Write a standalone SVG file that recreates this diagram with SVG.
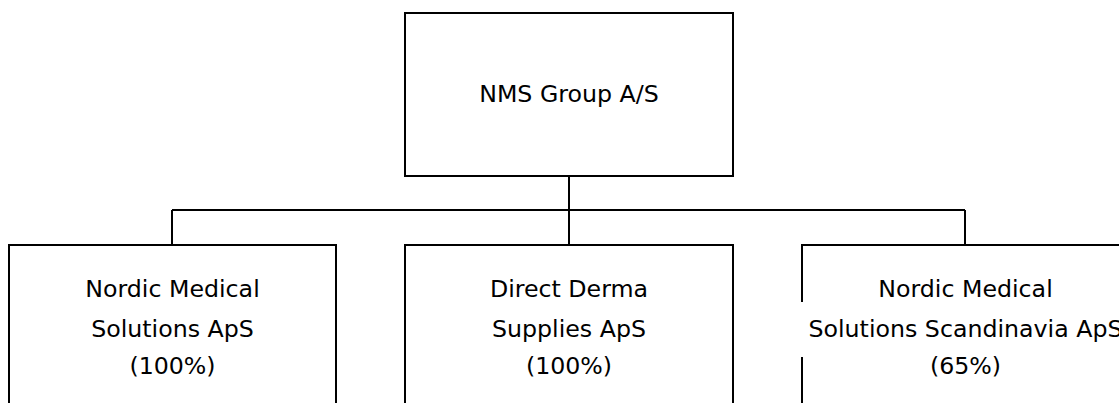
<svg xmlns="http://www.w3.org/2000/svg" width="1119" height="403" viewBox="0 0 1119 403">
<style>
.box{fill:#fff;stroke:#000;stroke-width:2}
.ln{fill:none;stroke:#000;stroke-width:2}
text{font-family:"DejaVu Sans",Verdana,sans-serif;font-size:23.7px;fill:#000;text-anchor:middle}
</style>
<rect width="1119" height="403" fill="#fff"/>
<g id="connectors">
<path class="ln" d="M569 176V210M172 210H965M172 210V245M569 210V245M965 210V245"/>
</g>
<g id="top">
<rect class="box" x="405" y="13" width="328" height="163"/>
<text x="569" y="102">NMS Group A/S</text>
</g>
<g id="left">
<rect class="box" x="9" y="245" width="327" height="170"/>
<text x="172.5" y="297">Nordic Medical</text>
<text x="172.5" y="337">Solutions ApS</text>
<text x="172.5" y="374">(100%)</text>
</g>
<g id="middle">
<rect class="box" x="405" y="245" width="328" height="170"/>
<text x="569" y="297">Direct Derma</text>
<text x="569" y="337">Supplies ApS</text>
<text x="569" y="374">(100%)</text>
</g>
<g id="right">
<rect class="box" x="802" y="245" width="328" height="170"/>
<rect x="798" y="302" width="321" height="55" fill="#fff"/>
<text x="965.5" y="297">Nordic Medical</text>
<text x="965.5" y="337">Solutions Scandinavia ApS</text>
<text x="965.5" y="374">(65%)</text>
</g>
</svg>
